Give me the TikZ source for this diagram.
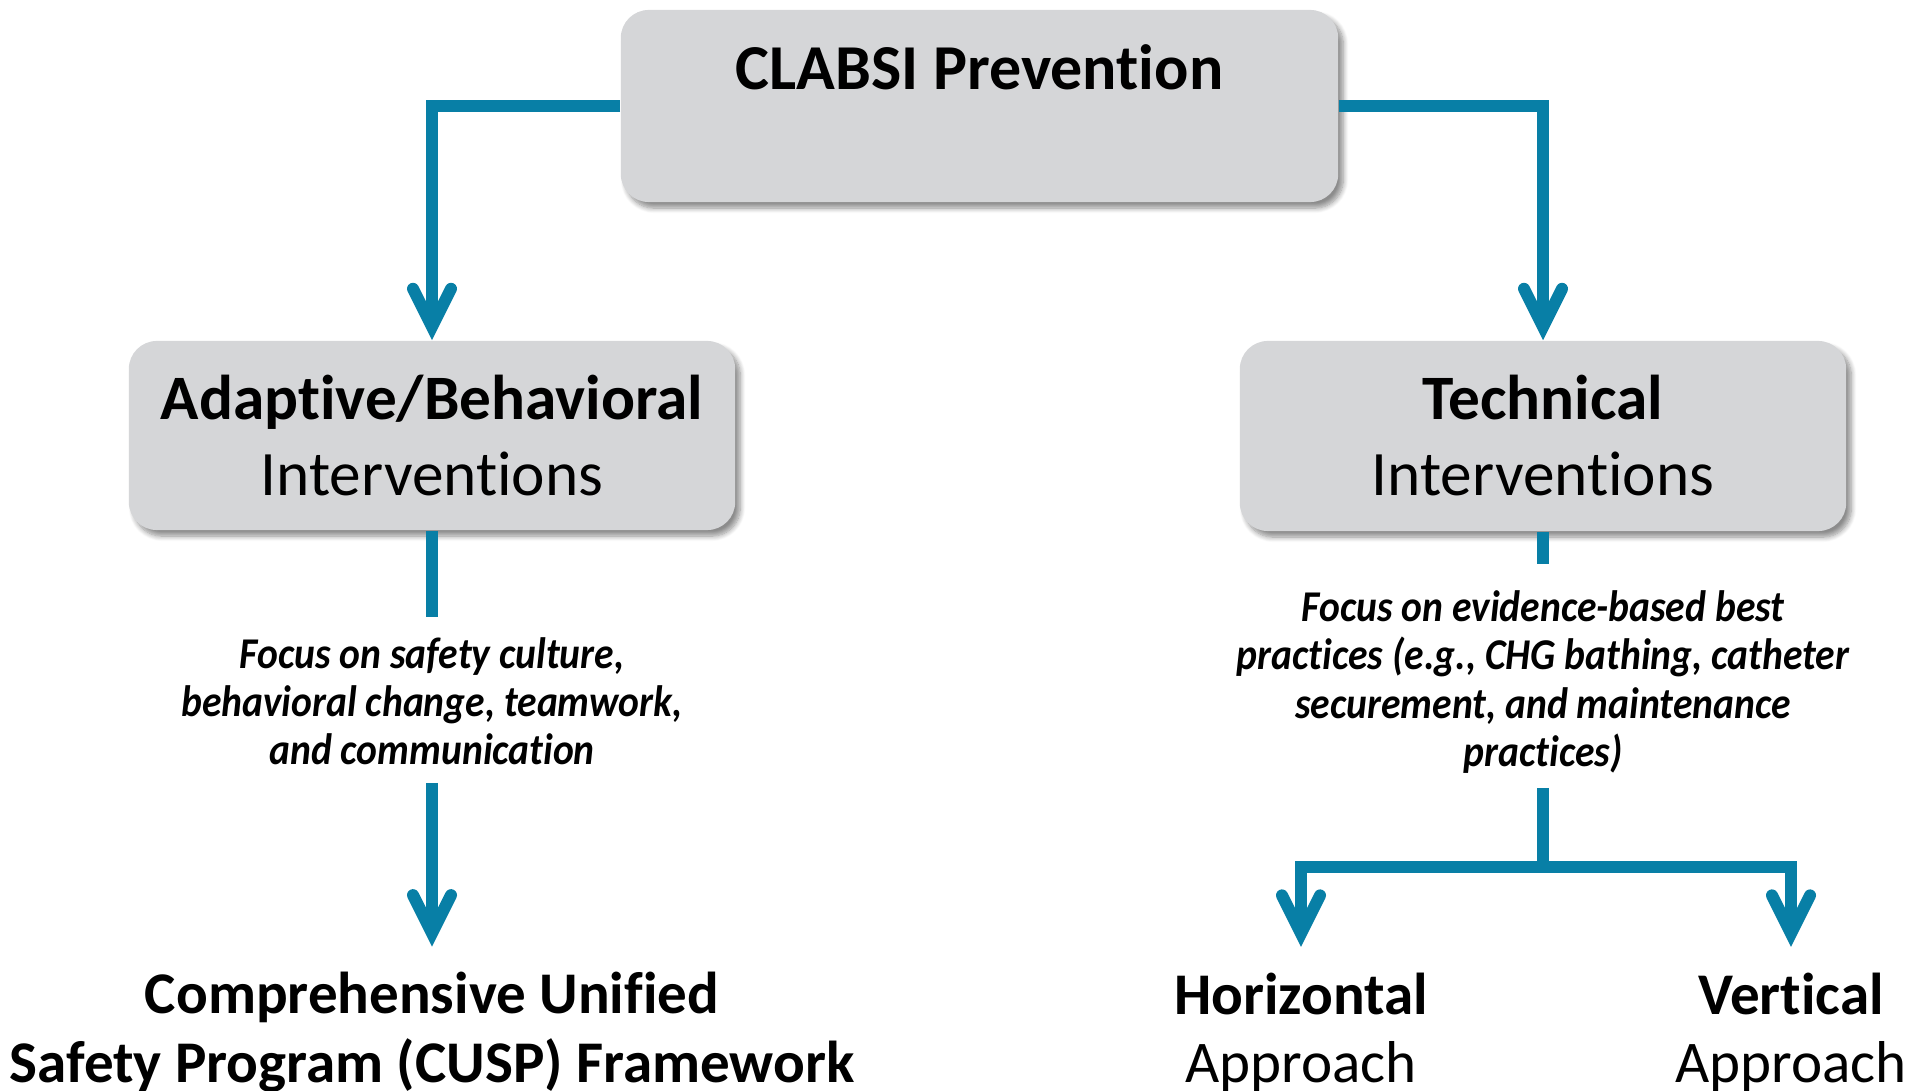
\documentclass[tikz,border=0pt]{standalone}
\usepackage{fontspec}
\setmainfont{Carlito}[Ligatures=NoCommon]
\newfontfamily\notefont{Carlito}[Ligatures=NoCommon, FakeStretch=0.9]
\usetikzlibrary{arrows.meta,shadows.blur}

\definecolor{flowblue}{RGB}{8,127,166}
\definecolor{boxgray}{RGB}{213,214,216}

\tikzset{
  box/.style={fill=boxgray, draw=none, rounded corners=0.28cm,
    inner sep=0pt, align=center,
    blur shadow={shadow xshift=0.05cm, shadow yshift=-0.06cm,
      shadow blur radius=0.05cm, shadow blur steps=8, shadow opacity=45}},
  conn/.style={draw=flowblue, line width=0.12cm},
  tip/.style={conn, -{Straight Barb[length=0.38cm, width=0.38cm,
    line cap=round, line join=miter]}},
  headtxt/.style={font=\fontsize{18}{21.6}\selectfont},
  notetxt/.style={align=center, inner sep=0pt,
    font=\notefont\fontsize{12.5}{13.7}\selectfont\bfseries\itshape},
  endtxt/.style={align=center, inner sep=0pt,
    font=\fontsize{16.8}{19.6}\selectfont},
}

\begin{document}
\begin{tikzpicture}[x=0.01cm, y=-0.01cm]
  \path[use as bounding box] (0,0) rectangle (1923,1091);

  % boxes
  \node[box, minimum width=7.17cm, minimum height=1.92cm] (top) at (979.5,106) {};
  \node[font=\fontsize{18.2}{22}\selectfont\bfseries] (toplabel) at (979.5,67) {CLABSI Prevention};

  \node[box, headtxt, minimum width=6.06cm, minimum height=1.89cm] (adbox) at (432,435.5)
    {\textbf{Adaptive/Behavioral}\\Interventions};
  \node[box, headtxt, minimum width=6.06cm, minimum height=1.90cm] (techbox) at (1543,436)
    {\textbf{Technical}\\Interventions};

  % notes under the intervention boxes
  \node[notetxt] (adnote) at (432,701.5)
    {Focus on safety culture,\\behavioral change, teamwork,\\and communication};
  \node[notetxt] (technote) at (1543,682)
    {Focus on evidence-based best\\practices (e.g., CHG bathing, catheter\\securement, and maintenance\\practices)};

  % outcomes
  \node[endtxt] (cusp) at (432,1032.5)
    {\textbf{Comprehensive Unified}\\\textbf{Safety Program (CUSP) Framework}};
  \node[endtxt] (horiz) at (1301,1032.5) {\textbf{Horizontal}\\Approach};
  \node[endtxt] (vert) at (1791,1032.5) {\textbf{Vertical}\\Approach};

  \coordinate (split) at (1543,867);

  % connectors
  \draw[tip] (top.west) -| (adbox.north);
  \draw[tip] (top.east) -| (techbox.north);
  \draw[conn, shorten >=0.205cm] (adbox.south) -- (adnote.north);
  \draw[tip, shorten <=0.17cm, shorten >=0.25cm] (adnote.south) -- (cusp.north);
  \draw[conn, shorten >=0.26cm] (techbox.south) -- (technote.north);
  \draw[conn, shorten <=0.14cm] (technote.south) -- (split);
  \draw[tip, shorten >=0.25cm] (split) -| (horiz.north);
  \draw[tip, shorten >=0.25cm] (split) -| (vert.north);
\end{tikzpicture}
\end{document}
